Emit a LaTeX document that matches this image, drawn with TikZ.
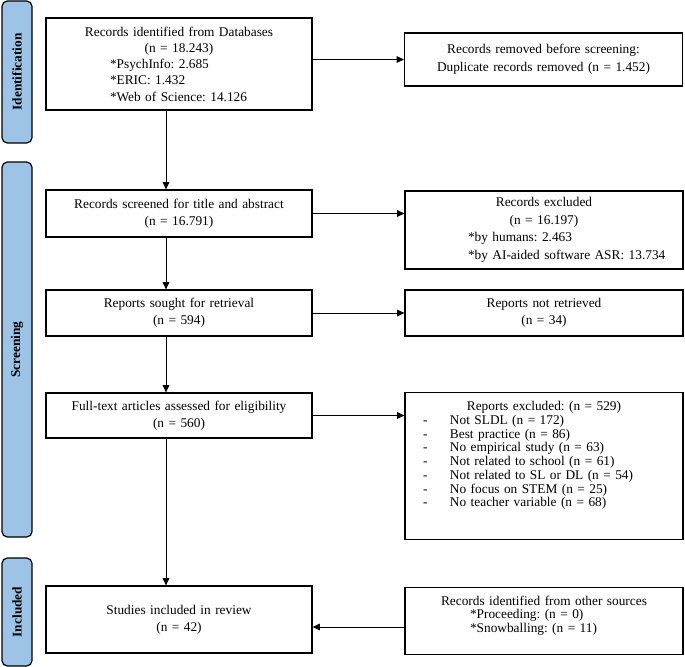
\documentclass[tikz,border=0pt]{standalone}
\usepackage{fontspec}
\setmainfont{Liberation Serif}
\frenchspacing
\usetikzlibrary{arrows.meta}
\definecolor{phaseblue}{RGB}{157,195,230}
\newcommand{\indentline}[2]{\makebox[\hsize][l]{\hspace*{#1}#2}}
\newcommand{\dashitem}[1]{\indentline{13.5pt}{\makebox[20.25pt][l]{-}#1}}

\begin{document}
\begin{tikzpicture}[x=0.75pt, y=-0.75pt,
    box/.style={draw, line width=0.9pt, inner xsep=0pt, align=center, font=\fontsize{10}{13}\selectfont},
    leftbox/.style={box, text width=199.5pt},
    rightbox/.style={box, text width=208.5pt},
    phase/.style={draw, line width=0.9pt, fill=phaseblue, rounded corners=4pt, rotate=90, minimum height=22.5pt, inner sep=0pt, font=\fontsize{10}{12}\selectfont\bfseries},
    arr/.style={-{Triangle[length=5.5pt, width=5pt]}, line width=0.7pt}]
    \useasboundingbox (0,0) rectangle (685,667);
    %phases
    \node[phase, minimum width=106.5pt] (idphase) at (17,72) {Identification};
    \node[phase, minimum width=281.25pt] (scrphase) at (17,349.5) {Screening};
    \node[phase, minimum width=81pt] (incphase) at (17,612) {Included};
    %left column
    \node[leftbox, minimum height=69pt, font=\fontsize{10}{12.2}\selectfont] (ident) at (179,64)
        {Records identified from Databases\\(n = 18.243)\\
         \indentline{48pt}{*PsychInfo: 2.685}\\
         \indentline{48pt}{*ERIC: 1.432}\\
         \indentline{48pt}{*Web of Science: 14.126}};
    \node[leftbox, minimum height=35.25pt] (screen) at (179,213.5) {Records screened for title and abstract\\(n = 16.791)};
    \node[leftbox, minimum height=34.5pt] (sought) at (179,313) {Reports sought for retrieval\\(n = 594)};
    \node[leftbox, minimum height=33.75pt] (full) at (179,415.5) {Full-text articles assessed for eligibility\\(n = 560)};
    \node[leftbox, minimum height=50.25pt] (incl) at (179,619.5) {Studies included in review\\(n = 42)};
    %right column
    \node[rightbox, minimum height=39.75pt, font=\fontsize{10}{13.7}\selectfont] (removed) at (543.5,59.5)
        {Records removed before screening:\\Duplicate records removed (n = 1.452)};
    \node[rightbox, minimum height=58.5pt, font=\fontsize{10}{13.2}\selectfont] (excl) at (544,230)
        {Records excluded\\(n = 16.197)\\
         \indentline{47.25pt}{*by humans: 2.463}\\
         \indentline{47.25pt}{*by AI-aided software ASR: 13.734}};
    \node[rightbox, minimum height=34.5pt] (notret) at (544,313) {Reports not retrieved\\(n = 34)};
    \node[rightbox, anchor=north, inner ysep=0pt, text height=13.5pt, text depth=96.75pt, font=\fontsize{10}{10.3}\selectfont] (exclrep) at (544,392)
        {Reports excluded: (n = 529)\\
         \dashitem{Not SLDL (n = 172)}\\
         \dashitem{Best practice (n = 86)}\\
         \dashitem{No empirical study (n = 63)}\\
         \dashitem{Not related to school (n = 61)}\\
         \dashitem{Not related to SL or DL (n = 54)}\\
         \dashitem{No focus on STEM (n = 25)}\\
         \dashitem{No teacher variable (n = 68)}};
    \node[rightbox, anchor=north, inner ysep=0pt, text height=13.1pt, text depth=37.15pt, font=\fontsize{10}{10.1}\selectfont] (other) at (544,587)
        {Records identified from other sources\\
         \indentline{48.75pt}{*Proceeding: (n = 0)}\\
         \indentline{48.75pt}{*Snowballing: (n = 11)}};
    %connectors
    \coordinate (col) at (166,0);
    \coordinate (snow) at (0,627);
    \draw[arr] (ident.south -| col) -- (screen.north -| col);
    \draw[arr] (screen.south -| col) -- (sought.north -| col);
    \draw[arr] (sought.south -| col) -- (full.north -| col);
    \draw[arr] (full.south -| col) -- (incl.north -| col);
    \draw[arr] (ident.east |- removed.west) -- (removed.west);
    \draw[arr] (screen.east) -- (screen.east -| excl.west);
    \draw[arr] (sought.east) -- (sought.east -| notret.west);
    \draw[arr] (full.east) -- (full.east -| exclrep.west);
    \draw[arr] (other.west |- snow) -- (incl.east |- snow);
\end{tikzpicture}
\end{document}
